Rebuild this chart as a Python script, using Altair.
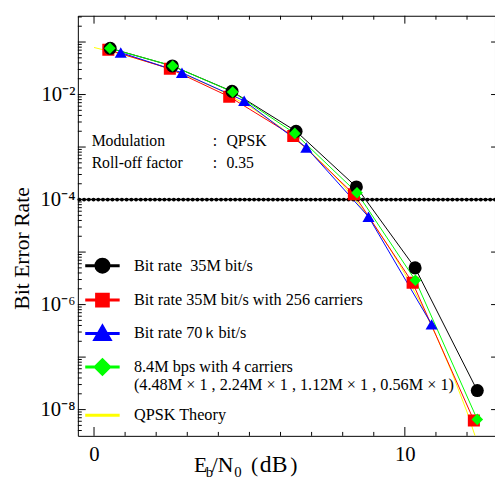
import math
import altair as alt
import pandas as pd

# ---------------- data ----------------
names = [
    "Bit rate\u00a0 35M bit/s",
    "Bit rate 35M bit/s with 256 carriers",
    "Bit rate 70\uff4bbit/s",
    "8.4M bps with 4 carriers|(4.48M \u00d7 1 , 2.24M \u00d7 1 , 1.12M \u00d7 1 , 0.56M \u00d7 1)",
    "QPSK Theory",
]
colors = ["#000000", "#ff0000", "#0000ff", "#00ff00", "#ffff00"]

ebno_35m = [0.52, 2.52, 4.44, 6.50, 8.44, 10.33, 12.33]
ber_35m = [7.6e-2, 3.5e-2, 1.15e-2, 2.0e-3, 1.74e-4, 5.0e-6, 2.3e-8]
ebno_256 = [0.46, 2.44, 4.35, 6.41, 8.36, 10.25, 12.22]
ber_256 = [7.1e-2, 3.1e-2, 9.1e-3, 1.62e-3, 1.26e-4, 2.6e-6, 6.2e-9]
ebno_70k = [0.86, 2.83, 4.83, 6.83, 8.83, 10.86]
ber_70k = [6.3e-2, 2.6e-2, 7.6e-3, 9.8e-4, 4.7e-5, 4.2e-7]
ebno_4c = [0.51, 2.53, 4.46, 6.46, 8.46, 10.34, 12.33]
ber_4c = [7.6e-2, 3.5e-2, 1.12e-2, 1.82e-3, 1.35e-4, 2.9e-6, 6.5e-9]
ebno_th = [0, 1, 2, 3, 4, 5, 6, 7, 7.5, 8, 8.5, 9, 9.5, 10, 10.5, 11, 11.5, 12, 12.5]
ber_th = [7.87e-2, 5.63e-2, 3.75e-2, 2.29e-2, 1.25e-2, 5.95e-3, 2.39e-3, 7.73e-4,
          4.0e-4, 1.91e-4, 8.4e-5, 3.36e-5, 1.21e-5, 3.87e-6, 1.09e-6, 2.61e-7,
          5.33e-8, 9.0e-9, 1.2e-9]

threshold = [1e-4]

x_domain = [-0.52, 12.9]
y_domain = [10 ** -8.5, 10 ** -0.5]
x_label_values = [0, 10]
x_major_ticks = [0, 10]
x_minor_ticks = [1, 2, 3, 4, 5, 6, 7, 8, 9, 11, 12]
y_label_values = [1e-2, 1e-4, 1e-6, 1e-8]
y_label_texts = ["10\u207b\u00b2", "10\u207b\u2074", "10\u207b\u2076", "10\u207b\u2078"]
y_major_ticks = [1e-8, 1e-7, 1e-6, 1e-5, 1e-4, 1e-3, 1e-2, 1e-1]
y_minor_ticks = [k * 10 ** e for e in range(-9, 0) for k in range(2, 10)
                 if y_domain[0] <= k * 10 ** e <= y_domain[1]]

annot_keys = ["Modulation", "Roll-off factor"]
annot_vals = ["QPSK", "0.35"]

# ---------------- tables ----------------
series_data = [
    (names[0], ebno_35m, ber_35m),
    (names[1], ebno_256, ber_256),
    (names[2], ebno_70k, ber_70k),
    (names[3], ebno_4c, ber_4c),
    (names[4], ebno_th, ber_th),
]
rows = []
for nm, xs, ys in series_data:
    for xv, yv in zip(xs, ys):
        rows.append({"series": nm, "ebno": xv, "ber": yv})
all_df = pd.DataFrame(rows)

W, H = 424, 427
FONT = "Liberation Serif"

x_scale = alt.Scale(domain=x_domain, nice=False, zero=False)
y_scale = alt.Scale(type="log", domain=y_domain, nice=False)

parts = []
for v, lab in zip(y_label_values, y_label_texts):
    parts.append(f"abs(log(datum.value)/LN10 - ({round(math.log10(v))})) < 0.01 ? '{lab}'")
y_label_expr = " : ".join(parts) + " : ''"

x_axis = alt.Axis(values=x_label_values, ticks=False, domain=False, grid=False,
                  labelFont=FONT, labelFontSize=21, labelColor="black",
                  labelPadding=8, title=None)
y_axis = alt.Axis(values=y_label_values, labelExpr=y_label_expr, ticks=False,
                  domain=False, grid=False, labelFont=FONT, labelFontSize=21,
                  labelColor="black", labelPadding=3,
                  title="Bit Error Rate", titleFont=FONT, titleFontSize=22,
                  titleFontWeight="normal", titleColor="black",
                  titleX=-50, titleY=236, titleBaseline="alphabetic")

layers = []

# curves (first layer carries the axes)
line_order = [4, 0, 1, 2, 3]
first = True
for i in line_order:
    nm = names[i]
    layers.append(alt.Chart(all_df).transform_filter(alt.datum.series == nm)
                  .mark_line(strokeWidth=1, clip=True, color=colors[i])
                  .encode(x=alt.X("ebno:Q", scale=x_scale, axis=x_axis if first else None),
                          y=alt.Y("ber:Q", scale=y_scale, axis=y_axis if first else None)))
    first = False


def tick_df(vals):
    return pd.DataFrame({"v": vals})


# inward ticks
def vticks(vals, y1, y2):
    return alt.Chart(tick_df(vals)).mark_rule(color="black", strokeWidth=1).encode(
        x=alt.X("v:Q", scale=x_scale, axis=None), y=alt.value(y1), y2=alt.value(y2))


def hticks(vals, x1, x2):
    return alt.Chart(tick_df(vals)).mark_rule(color="black", strokeWidth=1).encode(
        y=alt.Y("v:Q", scale=y_scale, axis=None), x=alt.value(x1), x2=alt.value(x2))


layers += [
    vticks(x_major_ticks, H, H - 9), vticks(x_minor_ticks, H, H - 4),
    vticks(x_major_ticks, 0, 8), vticks(x_minor_ticks, 0, 4),
    hticks(y_major_ticks, 0, 8), hticks(y_minor_ticks, 0, 4),
    hticks(y_major_ticks, W - 4, W),
]

# threshold dotted line
thr_df = pd.DataFrame({"v": threshold})
layers.append(alt.Chart(thr_df).mark_rule(color="black", strokeWidth=1.4).encode(
    y=alt.Y("v:Q", scale=y_scale, axis=None)))
layers.append(alt.Chart(thr_df).mark_rule(color="black", strokeWidth=3.8, strokeCap="round",
                                          strokeDash=[0.1, 4.7]).encode(
    y=alt.Y("v:Q", scale=y_scale, axis=None)))

# markers
marker_specs = [(1, "square", 150), (0, "circle", 175),
                (2, "triangle-up", 150), (3, "diamond", 140)]
for i, shp, sz in marker_specs:
    layers.append(alt.Chart(all_df).transform_filter(alt.datum.series == names[i])
                  .mark_point(shape=shp, filled=True, size=sz, opacity=1, clip=True,
                              color=colors[i])
                  .encode(x=alt.X("ebno:Q", scale=x_scale, axis=None),
                          y=alt.Y("ber:Q", scale=y_scale, axis=None)))

# annotation text
for i, (k, v) in enumerate(zip(annot_keys, annot_vals)):
    yy = 127 + i * 23
    for txt, xx in [(k, 14), (":", 137), (v, 151)]:
        layers.append(alt.Chart(pd.DataFrame({"t": [txt]})).mark_text(
            font=FONT, fontSize=16, color="black", align="left", baseline="middle").encode(
            text="t:N", x=alt.value(xx), y=alt.value(yy)))

# x title with subscripts
xtitle_parts = [("E", 118, 464, 22), ("b", 130, 469, 15), ("/N", 136, 464, 22),
                ("0", 159, 469, 15), ("(", 176, 464, 22), ("dB", 185, 464, 24),
                (")", 216, 464, 22)]
for txt, xx, yy, fs in xtitle_parts:
    layers.append(alt.Chart(pd.DataFrame({"t": [txt]})).mark_text(
        font=FONT, fontSize=fs, color="black", align="left", baseline="alphabetic").encode(
        text="t:N", x=alt.value(xx), y=alt.value(yy)))

# legend (symbols = line + marker)
legend_paths = [
    "M-1,0L1,0M0.38,0A0.38,0.38,0,1,1,-0.38,0A0.38,0.38,0,1,1,0.38,0Z",
    "M-1,0L1,0M-0.34,-0.34L0.34,-0.34L0.34,0.34L-0.34,0.34Z",
    "M-1,0L1,0M0,-0.42L0.44,0.34L-0.44,0.34Z",
    "M-1,0L1,0M0,-0.42L0.42,0L0,0.42L-0.42,0Z",
    "M-1,0L1,0",
]
leg = alt.Legend(title=None, orient="none", legendX=6, legendY=235, symbolSize=1225,
                 symbolStrokeWidth=3, labelFont=FONT, labelFontSize=16.5, labelColor="black",
                 labelLimit=440, labelOffset=13, rowPadding=3, padding=0,
                 labelExpr="split(datum.label, '|')", symbolOpacity=1)
layers.append(alt.Chart(all_df).transform_filter("false").mark_point(filled=True, opacity=1)
              .encode(x=alt.X("ebno:Q", scale=x_scale, axis=None),
                      y=alt.Y("ber:Q", scale=y_scale, axis=None),
                      fill=alt.Fill("series:N", scale=alt.Scale(domain=names, range=colors), legend=leg),
                      stroke=alt.Stroke("series:N", scale=alt.Scale(domain=names, range=colors), legend=leg),
                      shape=alt.Shape("series:N", scale=alt.Scale(domain=names, range=legend_paths), legend=leg)))

chart = alt.layer(*layers).resolve_axis(x="independent", y="independent").properties(
    width=W, height=H,
    autosize=alt.AutoSizeParams(type="none"),
    padding={"left": 71, "top": 4, "right": 0, "bottom": 43},
    background="white",
).configure_view(stroke="black", strokeWidth=1)

chart.save("out.html", embed_options={"renderer": "svg", "actions": False})
